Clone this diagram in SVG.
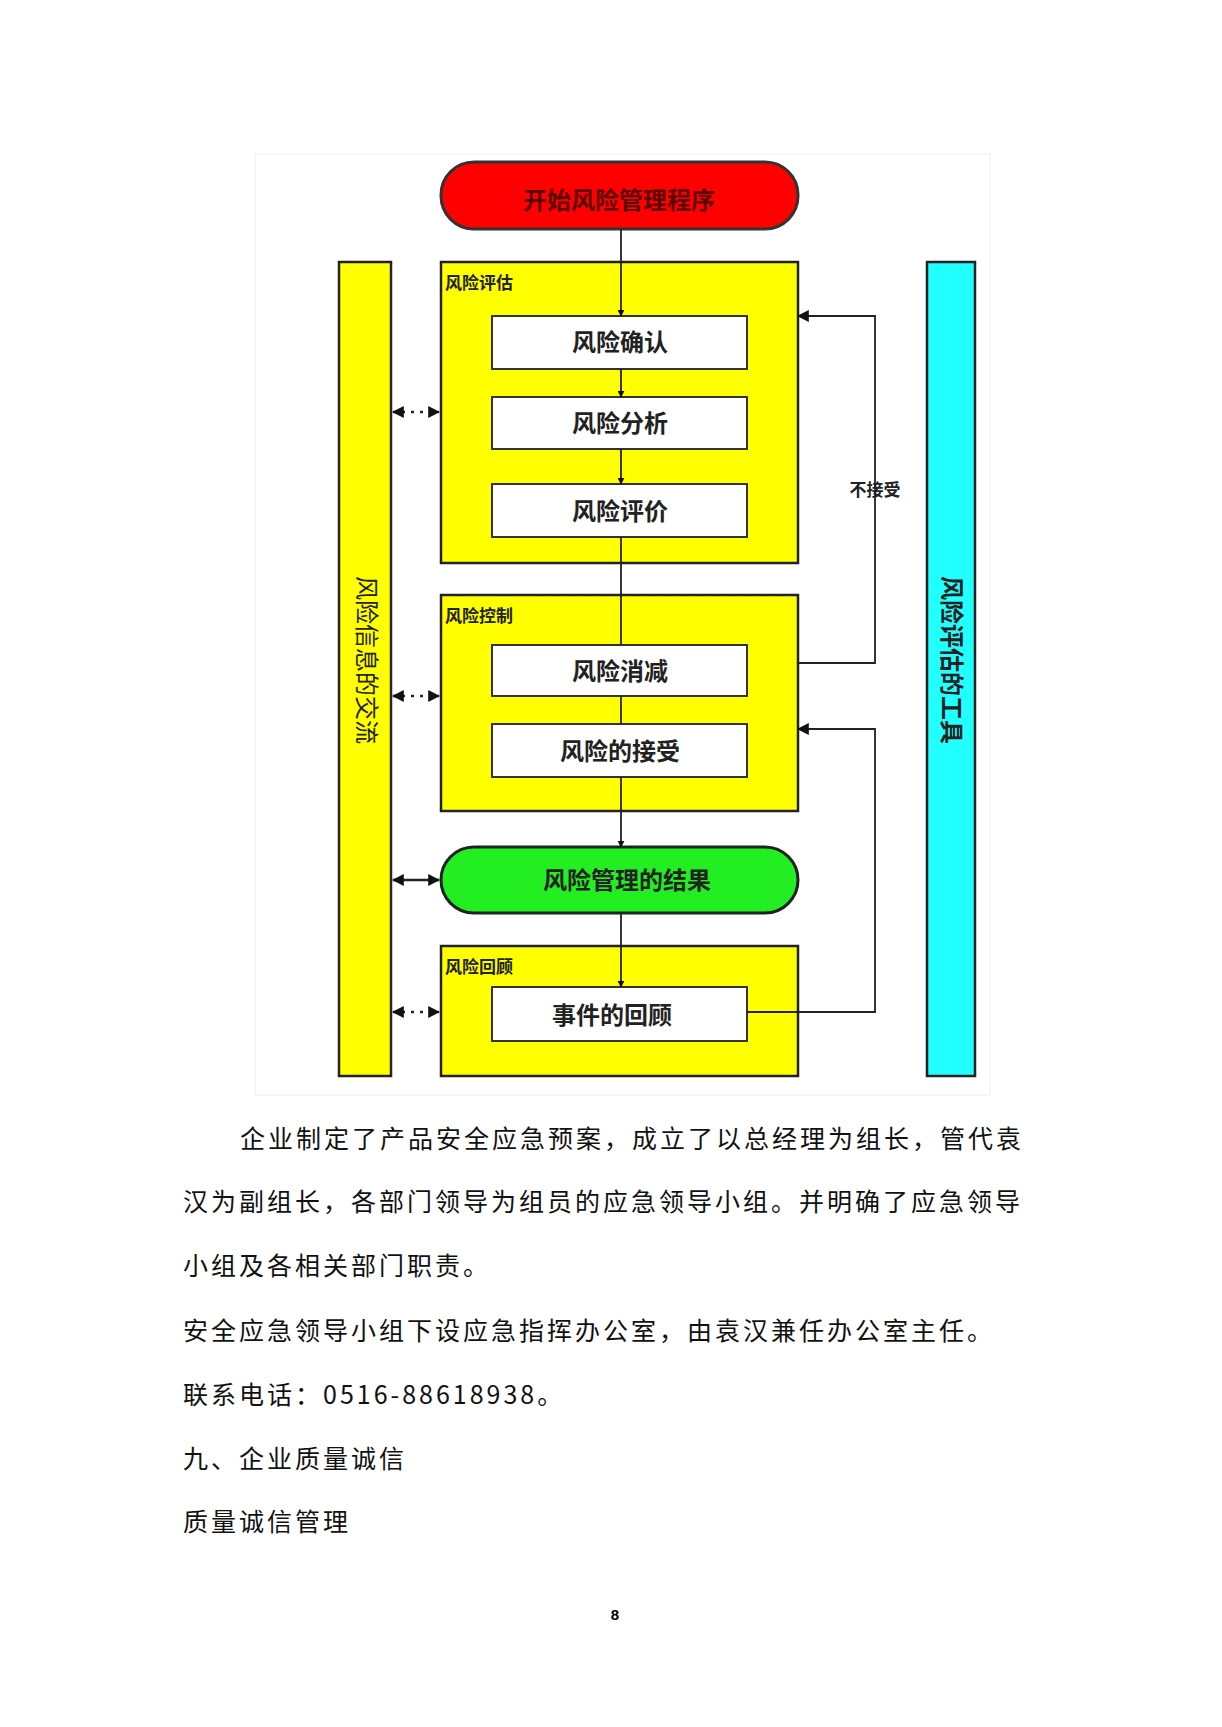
<svg xmlns="http://www.w3.org/2000/svg" width="1222" height="1727" viewBox="0 0 1222 1727">
<defs>
<style>
.box{fill:#ffff00;stroke:#222;stroke-width:2.5}
.wb{fill:#fff;stroke:#333;stroke-width:2}
.ln{stroke:#222;stroke-width:1.8;fill:none}
.dl{stroke:#222;stroke-width:2.5;fill:none;stroke-dasharray:3 6}
.t{font-family:"Noto Sans CJK SC",sans-serif;font-weight:bold;fill:#222;text-anchor:middle}
.lb{font-family:"Noto Sans CJK SC",sans-serif;font-weight:bold;fill:#222;font-size:17px}
.p{font-family:"Noto Sans CJK SC",sans-serif;font-size:25px;fill:#111;letter-spacing:3px}
</style>
<marker id="a" viewBox="0 0 10 10" refX="9" refY="5" markerWidth="7" markerHeight="7" orient="auto-start-reverse" markerUnits="userSpaceOnUse"><path d="M0,0L10,5L0,10z" fill="#111"/></marker>
<marker id="b" viewBox="0 0 10 10" refX="9" refY="5" markerWidth="12" markerHeight="12" orient="auto-start-reverse" markerUnits="userSpaceOnUse"><path d="M0,0L10,5L0,10z" fill="#111"/></marker>
</defs>
<rect x="255" y="154" width="735" height="941" fill="#fff" stroke="#eee"/>
<g id="bars">
<g id="info"><rect x="339" y="262" width="52" height="814" class="box"/><text class="t" font-size="24" font-weight="normal" transform="translate(366,660) rotate(90)" y="8" style="font-weight:normal">风险信息的交流</text></g>
<g id="tools"><rect x="927" y="262" width="48" height="814" fill="#22ffff" stroke="#222" stroke-width="2.5"/><text class="t" font-size="24" transform="translate(951,660) rotate(90)" y="8">风险评估的工具</text></g>
</g>
<g id="start"><rect x="441" y="162" width="357" height="67" rx="33" fill="#ff0000" stroke="#333" stroke-width="3"/><text class="t" x="619" y="209" font-size="24" fill="#600" style="fill:#5a0000">开始风险管理程序</text></g>
<g id="assess"><rect x="441" y="262" width="357" height="301" class="box"/><text class="lb" x="445" y="289">风险评估</text></g>
<g id="n1"><rect x="492" y="316" width="255" height="53" class="wb"/><text class="t" x="620" y="351" font-size="24">风险确认</text></g>
<g id="n2"><rect x="492" y="397" width="255" height="52" class="wb"/><text class="t" x="620" y="432" font-size="24">风险分析</text></g>
<g id="n3"><rect x="492" y="484" width="255" height="53" class="wb"/><text class="t" x="620" y="520" font-size="24">风险评价</text></g>
<g id="control"><rect x="441" y="595" width="357" height="216" class="box"/><text class="lb" x="445" y="622">风险控制</text></g>
<g id="n4"><rect x="492" y="645" width="255" height="51" class="wb"/><text class="t" x="620" y="680" font-size="24">风险消减</text></g>
<g id="n5"><rect x="492" y="724" width="255" height="53" class="wb"/><text class="t" x="620" y="760" font-size="24">风险的接受</text></g>
<g id="result"><rect x="441" y="847" width="357" height="66" rx="33" fill="#22ee22" stroke="#222" stroke-width="3"/><text class="t" x="627" y="889" font-size="24">风险管理的结果</text></g>
<g id="review"><rect x="441" y="946" width="357" height="130" class="box"/><text class="lb" x="445" y="973">风险回顾</text></g>
<g id="n6"><rect x="492" y="987" width="255" height="54" class="wb"/><text class="t" x="612" y="1024" font-size="24">事件的回顾</text></g>
<g id="connectors">
<path class="ln" d="M621,229V316" marker-end="url(#a)"/>
<path class="ln" d="M621,369V397" marker-end="url(#a)"/>
<path class="ln" d="M621,449V484" marker-end="url(#a)"/>
<path class="ln" d="M621,537V645"/>
<path class="ln" d="M621,696V724"/>
<path class="ln" d="M621,777V847" marker-end="url(#a)"/>
<path class="ln" d="M621,913V987" marker-end="url(#a)"/>
<path class="ln" d="M798,663H875V316H798" marker-end="url(#b)"/>
<path class="ln" d="M747,1012H875V729H798" marker-end="url(#b)"/>
<text class="lb" x="875" y="496" text-anchor="middle" font-size="16">不接受</text>
<path class="dl" d="M393,412H439" marker-start="url(#b)" marker-end="url(#b)"/>
<path class="dl" d="M393,696H439" marker-start="url(#b)" marker-end="url(#b)"/>
<path class="ln" style="stroke-width:2.5" d="M393,880H439" marker-start="url(#b)" marker-end="url(#b)"/>
<path class="dl" d="M393,1012H439" marker-start="url(#b)" marker-end="url(#b)"/>
</g>
<g id="text">
<text class="p" x="240" y="1148">企业制定了产品安全应急预案，成立了以总经理为组长，管代袁</text>
<text class="p" x="183" y="1211">汉为副组长，各部门领导为组员的应急领导小组。并明确了应急领导</text>
<text class="p" x="183" y="1275">小组及各相关部门职责。</text>
<text class="p" x="183" y="1340">安全应急领导小组下设应急指挥办公室，由袁汉兼任办公室主任。</text>
<text class="p" x="183" y="1404">联系电话：0516-88618938。</text>
<text class="p" x="183" y="1468">九、企业质量诚信</text>
<text class="p" x="183" y="1531">质量诚信管理</text>
<text x="615" y="1620" font-family="Liberation Sans,sans-serif" font-size="15" font-weight="bold" text-anchor="middle">8</text>
</g>
</svg>
